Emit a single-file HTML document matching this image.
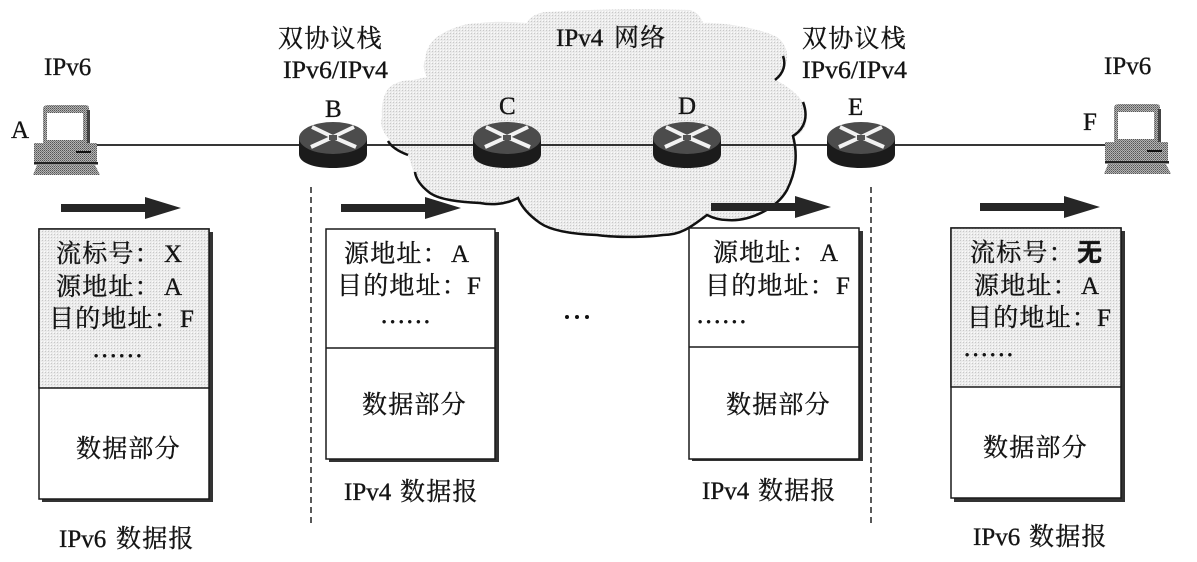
<!DOCTYPE html>
<html><head><meta charset="utf-8">
<style>
html,body{margin:0;padding:0;background:#fff}
svg{display:block}
text{font-family:"Liberation Serif","Noto Serif CJK SC",serif;fill:#141414;stroke:#141414;stroke-width:.35px;font-size:25px}
.s,.c{font-size:25px;letter-spacing:1.2px}
.d{letter-spacing:2.3px;stroke-width:.6px}
</style></head><body>
<svg width="1197" height="562" viewBox="0 0 1197 562" xmlns="http://www.w3.org/2000/svg">
<defs>
<pattern id="d" width="3" height="3" patternUnits="userSpaceOnUse">
<rect width="3" height="3" fill="#ebebeb"/><rect width="1" height="1" fill="#c8c8c8"/><rect x="2" y="2" width="1" height="1" fill="#fbfbfb"/>
</pattern>
<pattern id="m" width="2" height="2" patternUnits="userSpaceOnUse">
<rect width="2" height="2" fill="#b4b4b4"/><rect width="1" height="1" fill="#555"/><rect x="1" y="1" width="1" height="1" fill="#777"/>
</pattern>
<g id="router">
<path d="M0 16 V32 C0 41 15 46 34 46 C53 46 68 41 68 32 V16 Z" fill="#1b1b1b"/>
<ellipse cx="34" cy="16" rx="34" ry="16" fill="#4c4c4c"/>
<path d="M13 5 L34 15 L57 25 M55 5 L34 15 L12 25" fill="none" stroke="#f2f2f2" stroke-width="4"/>
<path d="M30 13 H38 V18 H30 Z" fill="#555"/>
</g>
<g id="pc">
<path d="M43 108 Q44 105 48 105 H85 Q89 105 89 108 V145 H43 Z" fill="url(#m)"/>
<rect x="47" y="113" width="36" height="27" fill="#fff"/>
<rect x="87" y="110" width="3" height="34" fill="#444"/>
<rect x="34" y="143" width="63" height="20" fill="url(#m)"/>
<rect x="76" y="151" width="15" height="2" fill="#111"/>
<rect x="34" y="162" width="64" height="2.500" fill="#222"/>
<path d="M37 165 H95 L100 175 H33 Z" fill="url(#m)"/>
</g>
<path id="arrow" d="M0 -4 H84 V-11 L120 0 L84 11 V4 H0 Z" fill="#262626"/>
</defs>

<!-- cloud -->
<path d="M775 80 C784 84 807 97 807 117 C807 128 801 134 793 138 C797 155 796 172 787 190 C777 208 750 222 727 220 C720 220 713 218 707 215 C690 228 680 233 663 233 C640 238 610 236 597 234 C570 233 550 230 540 223 C530 216 522 208 518 198 C505 205 490 205 480 203 C460 202 440 200 430 193 C420 185 414 178 413 170 C411 163 409 158 408 155 C396 150 390 145 390 140 C382 132 380 124 382 117 C381 100 386 90 390 87 C396 82 404 80 413 80 L427 77 C422 68 424 62 425 60 C426 48 432 41 437 37 C450 28 466 23 480 23 C497 21 514 22 527 23 C530 16 540 12 547 12 C590 9 640 9 690 10 C697 12 701 17 703 23 C720 22 760 28 777 37 C786 44 790 55 785 66 C783 72 779 77 775 80 Z" fill="url(#d)"/>
<path d="M783 56 C786 64 784 73 775 80 M803 102 C808 115 806 128 793 136 C798 155 796 172 787 190 C777 208 750 222 727 220 C720 220 713 218 707 215 C690 228 680 235 663 235 C640 238 610 237 597 235 C570 234 550 230 540 223 C530 216 522 208 518 198 C505 205 490 205 480 203 C460 202 440 200 430 193 C422 187 416 180 415 172 M388 141 C392 148 400 152 408 155" fill="none" stroke="#111" stroke-width="2.500"/>

<!-- link -->
<line x1="95" y1="145" x2="1105" y2="145" stroke="#1a1a1a" stroke-width="1.700"/>

<use href="#pc"/>
<use href="#pc" x="1071" y="-1"/>
<use href="#router" x="299" y="122"/>
<use href="#router" x="473" y="122"/>
<use href="#router" x="653" y="122"/>
<use href="#router" x="827" y="122"/>

<!-- arrows -->
<use href="#arrow" x="61" y="208"/>
<use href="#arrow" x="341" y="208"/>
<use href="#arrow" x="711" y="207"/>
<use href="#arrow" x="980" y="207"/>

<!-- dashed -->
<line x1="311" y1="187" x2="311" y2="527" stroke="#222" stroke-width="1.500" stroke-dasharray="6 4"/>
<line x1="871" y1="187" x2="871" y2="527" stroke="#222" stroke-width="1.500" stroke-dasharray="6 4"/>

<!-- boxes -->
<g stroke="#1a1a1a" stroke-width="1.500">
<rect x="42" y="232" width="171" height="270" fill="#333" stroke="none"/>
<rect x="39" y="229" width="170" height="270" fill="#fff"/>
<rect x="39" y="229" width="170" height="159" fill="url(#d)"/>
<rect x="329" y="232" width="170" height="230" fill="#333" stroke="none"/>
<rect x="326" y="229" width="169" height="230" fill="#fff"/>
<line x1="326" y1="348" x2="495" y2="348"/>
<rect x="692" y="231" width="171" height="230" fill="#333" stroke="none"/>
<rect x="689" y="228" width="170" height="231" fill="#fff"/>
<line x1="689" y1="347" x2="859" y2="347"/>
<rect x="954" y="231" width="171" height="271" fill="#333" stroke="none"/>
<rect x="951" y="228" width="170" height="270" fill="#fff"/>
<rect x="951" y="228" width="170" height="159" fill="url(#d)"/>
</g>

<!-- top labels -->
<text class="s" x="278" y="47">双协议栈</text>
<text x="283" y="78" textLength="105" lengthAdjust="spacingAndGlyphs">IPv6/IPv4</text>
<text class="s" x="802" y="47">双协议栈</text>
<text x="802" y="78" textLength="105" lengthAdjust="spacingAndGlyphs">IPv6/IPv4</text>
<text x="44" y="75">IPv6</text>
<text x="1104" y="74">IPv6</text>
<text x="556" y="46">IPv4</text><text class="c" x="614" y="46">网络</text>
<text x="11" y="138">A</text>
<text x="325" y="117">B</text>
<text x="499" y="114">C</text>
<text x="678" y="114">D</text>
<text x="848" y="115">E</text>
<text x="1083" y="130">F</text>

<!-- box 1 -->
<text class="s" x="56" y="262">流标号：</text><text x="164" y="262">X</text>
<text class="s" x="56" y="295">源地址：</text><text x="164" y="295">A</text>
<text class="s" x="49" y="327">目的地址：</text><text x="180" y="327">F</text>
<text class="d" x="93" y="357">......</text>
<text class="s" x="76" y="457">数据部分</text>
<text x="59" y="547">IPv6</text><text class="s" x="116" y="547">数据报</text>

<!-- box 2 -->
<text class="s" x="344" y="262">源地址：</text><text x="451" y="262">A</text>
<text class="s" x="337" y="294">目的地址：</text><text x="467" y="294">F</text>
<text class="d" x="381" y="323">......</text>
<text class="s" x="362" y="413">数据部分</text>
<text x="344" y="500">IPv4</text><text class="s" x="400" y="500">数据报</text>

<!-- box 3 -->
<text class="s" x="713" y="261">源地址：</text><text x="820" y="261">A</text>
<text class="s" x="705" y="294">目的地址：</text><text x="836" y="294">F</text>
<text class="d" x="697" y="323">......</text>
<text class="s" x="726" y="413">数据部分</text>
<text x="702" y="499">IPv4</text><text class="s" x="758" y="499">数据报</text>

<!-- box 4 -->
<text class="s" x="970" y="261">流标号：</text><text class="s" x="1077" y="261" style="font-weight:700;font-family:'Noto Sans CJK SC',sans-serif">无</text>
<text class="s" x="974" y="294">源地址：</text><text x="1081" y="294">A</text>
<text class="s" x="967" y="326">目的地址：</text><text x="1097" y="326">F</text>
<text class="d" x="964" y="356">......</text>
<text class="s" x="983" y="456">数据部分</text>
<text x="973" y="545">IPv6</text><text class="s" x="1029" y="545">数据报</text>

<!-- ellipsis -->
<g fill="#111"><circle cx="567" cy="317" r="2"/><circle cx="577" cy="317" r="2"/><circle cx="587" cy="317" r="2"/></g>
</svg>
</body></html>
